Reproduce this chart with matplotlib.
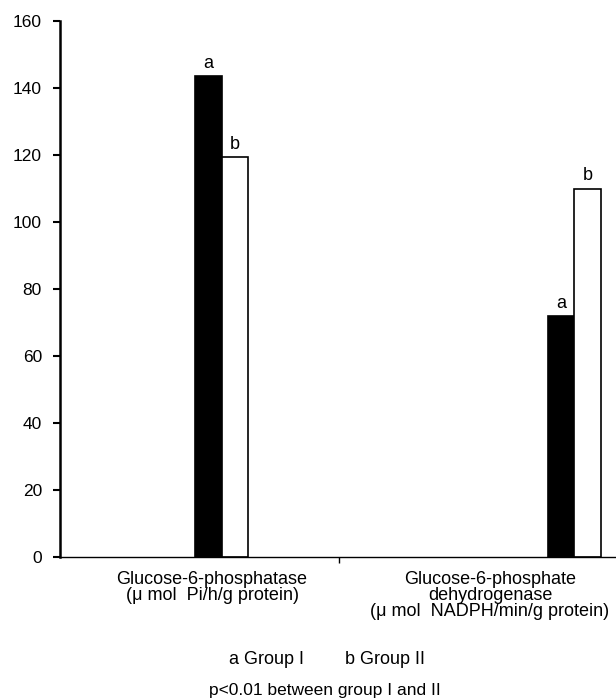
import matplotlib
matplotlib.use("Agg")
import matplotlib.pyplot as plt

categories = ["Glucose-6-phosphatase\n(\u03bc mol  Pi/h/g protein)",
              "Glucose-6-phosphate\ndehydrogenase\n(\u03bc mol  NADPH/min/g protein)"]
group1 = [143.5, 72.0]
group2 = [119.5, 110.0]
bar_labels = ["a", "b"]
yticks = [0, 20, 40, 60, 80, 100, 120, 140, 160]

plt.rcParams['font.family'] = ['Liberation Sans', 'DejaVu Sans']

W, H = 616, 699
fig = plt.figure(figsize=(W / 100, H / 100), dpi=100)
ax = fig.add_axes([60 / W, 142 / H, (W - 60) / W, 536 / H])

# layout (category units)
left1 = [0.484, 1.749]
width = 0.095
for i in range(2):
    ax.bar(left1[i], group1[i], width=width, align='edge', color='black',
           edgecolor='black', linewidth=1.2)
    ax.bar(left1[i] + width, group2[i], width=width, align='edge', color='white',
           edgecolor='black', linewidth=1.2)
    ax.text(left1[i] + width / 2, group1[i] + 1.2, bar_labels[0], ha='center',
            va='bottom', fontsize=13)
    ax.text(left1[i] + 1.5 * width, group2[i] + 1.2, bar_labels[1], ha='center',
            va='bottom', fontsize=13)

ax.set_xlim(0, (W - 60) / 279)
ax.set_ylim(0, 160)
ax.set_yticks(yticks)
ax.set_yticklabels([str(v) for v in yticks], fontsize=12.5)
ax.tick_params(axis='y', direction='out', length=5, width=1.5, pad=8)
ax.set_xticks([1.0])
ax.set_xticklabels([""])
ax.tick_params(axis='x', direction='out', length=4, width=1)
for s in ['top', 'right']:
    ax.spines[s].set_visible(False)
ax.spines['left'].set_linewidth(1.8)
ax.spines['bottom'].set_linewidth(1.0)

ax.text((212 - 60) / 279, -4.2, categories[0], ha='center', va='top', fontsize=13,
        linespacing=0.92)
ax.text((490 - 60) / 279, -4.2, categories[1], ha='center', va='top', fontsize=13,
        linespacing=0.92)

fig.text(229 / W, 1 - 660 / H, "a Group I", ha='left',
         va='center', fontsize=13)
fig.text(345 / W, 1 - 660 / H, "b Group II", ha='left',
         va='center', fontsize=13)
fig.text(325 / W, 1 - 690 / H, "p<0.01 between group I and II", ha='center',
         va='center', fontsize=12.5)

fig.savefig("out.png", dpi=100)
